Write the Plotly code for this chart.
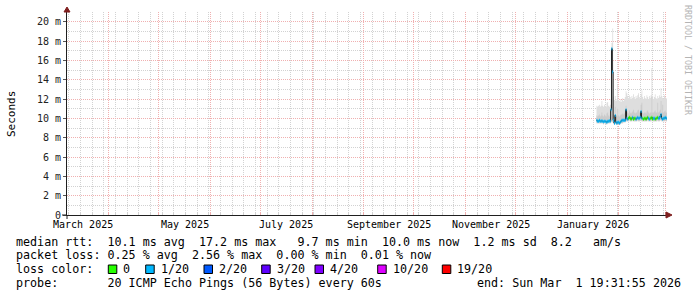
import plotly.graph_objects as go
from datetime import datetime, timedelta

# ---------------- data ----------------
END = datetime(2026, 3, 1, 19, 31, 55)
SPAN_DAYS = 360
START = END - timedelta(days=SPAN_DAYS)

data_start = datetime(2026, 1, 18, 12, 0)
step_hours = 12

median_ms = [
    9.8, 9.7, 9.7, 9.8, 9.7, 9.7, 9.75, 9.7, 9.65, 9.7, 9.7, 9.65, 9.6, 9.7, 9.7, 9.75, 9.7,
    10.9, 17.2, 14.8,
    9.8, 9.5, 10.3, 9.6, 9.5, 9.6, 9.6, 9.5, 9.6, 9.7, 9.8, 9.8,
    9.8, 9.8, 9.8, 10.9, 10.0, 9.9, 10.0, 10.1, 10.0, 9.9, 10.0, 10.1, 9.9, 10.0, 10.0, 9.9,
    10.0, 10.1, 10.0, 10.0, 10.1, 10.7, 10.0, 10.0, 9.9, 10.0, 10.0, 9.9, 10.0, 10.1, 10.0, 9.9,
    10.0, 10.0, 10.1, 9.9, 10.0, 10.0, 9.9, 10.0, 10.0, 10.1, 10.0, 10.0, 10.2, 10.4, 10.0, 9.9,
    10.0, 10.0, 10.1, 10.0, 10.0,
]
loss_level = [
    1, 1, 1, 1, 1, 1, 1, 1, 1, 1, 1, 1, 1, 1, 1, 1, 1,
    1, 1, 1,
    1, 1, 1, 1, 1, 1, 1, 1, 1, 1, 1, 1,
    1, 1, 1, 1, 1, 1, 0, 0, 0, 0, 0, 1, 0, 0, 0, 1,
    1, 1, 1, 1, 1, 1, 1, 0, 0, 0, 0, 0, 0, 0, 1, 1,
    0, 0, 0, 0, 1, 1, 0, 0, 0, 0, 1, 1, 1, 1, 1, 1,
    1, 1, 1, 1, 1,
]
smoke_low = [
    9.5, 9.5, 9.5, 9.5, 9.5, 9.5, 9.5, 9.5, 9.4, 9.5, 9.5, 9.4, 9.4, 9.5, 9.5, 9.5, 9.5,
    9.6, 9.7, 9.6,
    9.5, 9.3, 9.5, 9.4, 9.3, 9.4, 9.4, 9.3, 9.4, 9.5, 9.5, 9.5,
    9.6, 9.6, 9.6, 9.7, 9.7, 9.7, 9.7, 9.8, 9.7, 9.7, 9.7, 9.8, 9.7, 9.7, 9.7, 9.7,
    9.7, 9.8, 9.7, 9.7, 9.8, 9.8, 9.7, 9.7, 9.7, 9.7, 9.7, 9.7, 9.7, 9.8, 9.7, 9.7,
    9.7, 9.7, 9.8, 9.7, 9.7, 9.7, 9.7, 9.7, 9.7, 9.8, 9.7, 9.7, 9.8, 9.8, 9.7, 9.7,
    9.7, 9.7, 9.8, 9.7, 9.7,
]
smoke_mid = [
    10.3, 10.2, 10.3, 10.4, 10.2, 10.3, 10.6, 10.3, 10.2, 10.4, 10.3, 10.2, 10.5, 10.6, 10.3, 10.2, 10.4,
    11.4, 17.4, 16.0,
    10.4, 10.2, 11.2, 10.3, 10.2, 11.0, 10.3, 10.2, 10.3, 10.4, 10.4, 10.5,
    10.4, 10.5, 10.6, 11.3, 10.7, 10.6, 10.5, 10.8, 10.6, 10.5, 10.6, 10.7, 10.9, 10.6, 10.5, 10.6,
    10.6, 10.8, 10.9, 10.6, 10.7, 11.4, 11.6, 10.6, 10.5, 10.6, 10.6, 10.5, 10.7, 10.8, 10.6, 10.5,
    10.6, 10.6, 12.2, 10.6, 10.6, 10.7, 10.8, 10.6, 10.6, 11.6, 10.6, 10.7, 10.9, 11.8, 10.6, 11.4,
    10.6, 10.7, 10.8, 10.6, 10.6,
]
smoke_high = [
    11.3, 11.2, 11.3, 11.4, 11.2, 11.3, 11.8, 11.3, 11.2, 11.4, 11.3, 11.2, 11.6, 11.7, 11.3, 11.2, 11.4,
    12.0, 17.8, 19.3,
    12.2, 11.9, 12.3, 11.8, 12.0, 13.5, 11.9, 11.8, 12.0, 11.7, 11.9, 12.1,
    11.8, 12.0, 12.2, 12.8, 12.6, 12.3, 12.1, 12.4, 12.2, 12.0, 12.3, 12.1, 12.5, 12.2, 12.0, 12.3,
    12.1, 12.4, 12.6, 12.2, 12.0, 12.5, 12.9, 12.2, 12.0, 12.3, 12.1, 12.0, 12.4, 12.2, 12.0, 12.3,
    12.1, 12.4, 15.2, 12.3, 12.0, 12.2, 12.5, 12.1, 12.0, 12.3, 12.1, 12.4, 12.2, 13.1, 12.3, 12.1,
    12.0, 12.4, 12.2, 12.0, 12.1,
]

loss_labels = ["0", "1/20", "2/20", "3/20", "4/20", "10/20", "19/20"]
loss_colors = ["#26ff00", "#00b8ff", "#0059ff", "#5e00ff", "#7e00ff", "#dd00ff", "#ff0000"]

y_tick_vals = [0, 2, 4, 6, 8, 10, 12, 14, 16, 18, 20]
y_tick_text = ["0", "2 m", "4 m", "6 m", "8 m", "10 m", "12 m", "14 m", "16 m", "18 m", "20 m"]

month_labels = ["March 2025", "May 2025", "July 2025", "September 2025", "November 2025", "January 2026"]
month_label_starts = [(2025, 3), (2025, 5), (2025, 7), (2025, 9), (2025, 11), (2026, 1)]

legend_line1 = "median rtt:  10.1 ms avg  17.2 ms max   9.7 ms min  10.0 ms now  1.2 ms sd  8.2   am/s"
legend_line2 = "packet loss: 0.25 % avg  2.56 % max  0.00 % min  0.01 % now"
legend_line3 = "loss color:"
legend_line4 = "probe:       20 ICMP Echo Pings (56 Bytes) every 60s"
end_text = "end: Sun Mar  1 19:31:55 2026"
watermark = "RRDTOOL / TOBI OETIKER"

# ---------------- layout constants ----------------
W, H = 697, 297
L, R, T, B = 67, 30, 12, 82
PW, PH = W - L - R, H - T - B
MONO = "DejaVu Sans Mono"
GRID = "#d2d2d2"
MGRID = "#f0b0b0"
ARROW = "#7f1f1f"
AXIS = "#1f1f1f"


def px2x(px):
    return (px - L) / PW


def py2y(py):
    return (T + PH - py) / PH


def nb(s):
    return s.replace(" ", "\u00a0")


times = [data_start + timedelta(hours=step_hours * i) for i in range(len(median_ms))]
t_ext = times + [END]


def ext(v):
    return v + [v[-1]]


fig = go.Figure()

# smoke (outer)
fig.add_trace(go.Scatter(x=t_ext, y=ext(smoke_low), mode="lines", line=dict(width=0, shape="hv"),
                         hoverinfo="skip", showlegend=False))
fig.add_trace(go.Scatter(x=t_ext, y=ext(smoke_high), mode="lines", line=dict(width=0, shape="hv"),
                         fill="tonexty", fillcolor="#dedede", hoverinfo="skip", showlegend=False))
# smoke (inner)
fig.add_trace(go.Scatter(x=t_ext, y=ext(smoke_low), mode="lines", line=dict(width=0, shape="hv"),
                         hoverinfo="skip", showlegend=False))
fig.add_trace(go.Scatter(x=t_ext, y=ext(smoke_mid), mode="lines", line=dict(width=0, shape="hv"),
                         fill="tonexty", fillcolor="#cbcbcb", hoverinfo="skip", showlegend=False))

# thin median line
fig.add_trace(go.Scatter(x=t_ext, y=ext(median_ms), mode="lines",
                         line=dict(color="#202020", width=1, shape="hv"),
                         hoverinfo="skip", showlegend=False))

# median coloured by loss
for lvl, col in enumerate(loss_colors):
    xs, ys = [], []
    for i, m in enumerate(median_ms):
        if loss_level[i] == lvl:
            xs += [t_ext[i], t_ext[i + 1], None]
            ys += [m, m, None]
    if xs:
        fig.add_trace(go.Scatter(x=xs, y=ys, mode="lines", line=dict(color=col, width=3),
                                 hoverinfo="skip", showlegend=False))

month_starts = []
d = datetime(2025, 4, 1)
while d <= END:
    month_starts.append(d)
    d = datetime(d.year + (d.month // 12), d.month % 12 + 1, 1)

fig.update_xaxes(
    type="date", range=[START, END],
    tickvals=month_starts, showticklabels=False,
    showgrid=True, gridcolor=MGRID, griddash="1px,1px", gridwidth=1,
    ticks="inside", ticklen=2, tickcolor=MGRID,
    minor=dict(dtick=7 * 24 * 3600 * 1000, tick0="2025-03-08", showgrid=True,
               gridcolor=GRID, griddash="1px,1px", gridwidth=1,
               ticks="inside", ticklen=2, tickcolor=GRID),
    showline=True, linecolor=AXIS, linewidth=1, zeroline=False, fixedrange=True,
)
fig.update_yaxes(
    range=[0, 21], tickvals=y_tick_vals, ticktext=y_tick_text,
    tickfont=dict(family=MONO, size=10, color="#222222"),
    showgrid=True, gridcolor=MGRID, griddash="1px,1px", gridwidth=1,
    ticks="outside", ticklen=3, tickcolor="#555555",
    minor=dict(dtick=1, showgrid=True, gridcolor=GRID, griddash="1px,1px", gridwidth=1),
    showline=True, linecolor=AXIS, linewidth=1, zeroline=False, fixedrange=True,
)

ann = []
# x labels centred over their month
for txt, (yy, mm) in zip(month_labels, month_label_starts):
    s = datetime(yy, mm, 1)
    e = datetime(yy + (mm // 12), mm % 12 + 1, 1)
    ann.append(dict(x=s + (e - s) / 2, xref="x", y=py2y(224), yref="paper", text=nb(txt),
                    showarrow=False, xanchor="center", yanchor="middle",
                    font=dict(family=MONO, size=10, color="#000"), borderpad=0, borderwidth=0))

# y-axis unit
ann.append(dict(x=px2x(11), y=py2y(114), xref="paper", yref="paper", text="Seconds", textangle=-90,
                showarrow=False, xanchor="center", yanchor="middle",
                font=dict(family=MONO, size=11, color="#000"), borderpad=0, borderwidth=0))
# watermark
ann.append(dict(x=px2x(688), y=py2y(60), xref="paper", yref="paper", text=nb(watermark), textangle=90,
                showarrow=False, xanchor="center", yanchor="middle",
                font=dict(family=MONO, size=8.3, color="#b4b4b4"), borderpad=0, borderwidth=0))

LF = dict(family=MONO, size=11.7, color="#000")
for txt, py in [(legend_line1, 241.5), (legend_line2, 255.2), (legend_line3, 269), (legend_line4, 282.8)]:
    ann.append(dict(x=px2x(16), y=py2y(py), xref="paper", yref="paper", text=nb(txt),
                    showarrow=False, xanchor="left", yanchor="middle", font=LF,
                    borderpad=0, borderwidth=0))
ann.append(dict(x=px2x(680.5), y=py2y(282.8), xref="paper", yref="paper", text=nb(end_text),
                showarrow=False, xanchor="right", yanchor="middle", font=LF,
                borderpad=0, borderwidth=0))

swatch_px = [108.3, 145.7, 204, 261.7, 315, 377.7, 442.3]
shapes = []
for lbl, col, sx in zip(loss_labels, loss_colors, swatch_px):
    shapes.append(dict(type="rect", xref="paper", yref="paper",
                       x0=px2x(sx), x1=px2x(sx + 8.5), y0=py2y(273.5), y1=py2y(265),
                       fillcolor=col, line=dict(color="#000", width=1)))
    ann.append(dict(x=px2x(sx + 15), y=py2y(269), xref="paper", yref="paper", text=nb(lbl),
                    showarrow=False, xanchor="left", yanchor="middle", font=LF,
                    borderpad=0, borderwidth=0))

# axis overhangs (RRDtool draws axes a little past the origin)
shapes.append(dict(type="line", xref="paper", yref="paper", xsizemode="pixel", xanchor=0,
                   x0=-5, x1=0, y0=0, y1=0, line=dict(color=AXIS, width=1)))
shapes.append(dict(type="line", xref="paper", yref="paper", ysizemode="pixel", yanchor=0,
                   x0=0, x1=0, y0=-4, y1=0, line=dict(color=AXIS, width=1)))

# axis arrows
shapes.append(dict(type="path", xref="paper", yref="paper", xsizemode="pixel", ysizemode="pixel",
                   xanchor=0, yanchor=1, path="M-3,0 L3,0 L0,5 Z",
                   fillcolor=ARROW, line=dict(color=ARROW, width=1)))
shapes.append(dict(type="path", xref="paper", yref="paper", xsizemode="pixel", ysizemode="pixel",
                   xanchor=1, yanchor=0, path="M-1,3 L-1,-3 L5,0 Z",
                   fillcolor=ARROW, line=dict(color=ARROW, width=1)))

fig.update_layout(
    width=W, height=H, margin=dict(l=L, r=R, t=T, b=B),
    paper_bgcolor="#ffffff", plot_bgcolor="#ffffff",
    showlegend=False, annotations=ann, shapes=shapes,
    font=dict(family=MONO),
)

fig.write_html("out.html", config={"displayModeBar": False})
